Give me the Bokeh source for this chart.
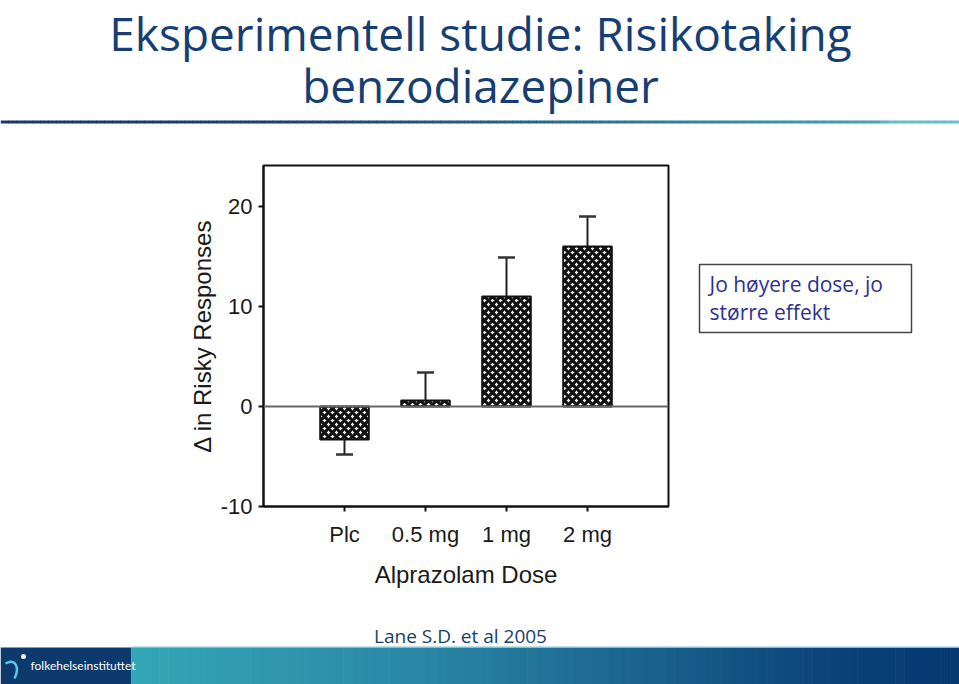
from bokeh.plotting import figure
from bokeh.layouts import column, row
from bokeh.models import Range1d, FactorRange, FixedTicker, Span, ColumnDataSource
from bokeh.transform import dodge
from bokeh.core.properties import value
from bokeh.embed import file_html
from bokeh.resources import INLINE

# ---------------- data ----------------
doses = ["Plc", "0.5 mg", "1 mg", "2 mg"]
mean_change = [-3.3, 0.6, 11.0, 16.0]
error_end = [-4.8, 3.4, 14.9, 19.0]
y_ticks = [-10, 0, 10, 20]

title_lines = ["Eksperimentell studie: Risikotaking", "benzodiazepiner"]
note_lines = ["Jo høyere dose, jo", "større effekt"]
citation = "Lane S.D. et al 2005"
logo_text = "folkehelseinstituttet"
x_label = "Alprazolam Dose"
y_label = "\u0394 in Risky Responses"

# ---------------- layout constants ----------------
W, H = 959, 684
TOP_H = 140          # title band
MID_H = 460          # chart band
BOT_H = H - TOP_H - MID_H
CHART_W = 690
FL, FR, FT, FB = 263, 668, 165, 506   # chart frame on the page
CHART_FONT = "Liberation Sans"
SLIDE_FONT = "Open Sans"
NAVY = "#163e72"
MID_SHIFT = 0.39      # baseline sits this many em below the "middle" anchor


def mid(baseline, size):
    return baseline - MID_SHIFT * size


def deco_fig(w, h, x0=0, y0=0, bt=0, bb=0):
    # frame of the figure maps page pixels [x0, x0+w] x [y0+bt, y0+h-bb]
    f = figure(width=w, height=h,
               x_range=Range1d(x0, x0 + w), y_range=Range1d(y0 + h - bb, y0 + bt),
               output_backend="svg", toolbar_location=None,
               x_axis_location=None, y_axis_location=None,
               min_border=0, min_border_left=0, min_border_right=0,
               min_border_top=bt, min_border_bottom=bb)
    f.xgrid.visible = False
    f.ygrid.visible = False
    f.outline_line_color = None
    f.background_fill_color = "white"
    f.border_fill_color = "white"
    return f


def lerp(c0, c1, t):
    return "#%02x%02x%02x" % tuple(int(round(a + (b - a) * t)) for a, b in zip(c0, c1))


def gradient(f, x0, x1, y0, y1, stops, n):
    step = (x1 - x0) / n
    lefts, rights, cols = [], [], []
    for i in range(n):
        pos = (i + 0.5) / n
        for k in range(len(stops) - 1):
            if stops[k][0] <= pos <= stops[k + 1][0]:
                t = (pos - stops[k][0]) / (stops[k + 1][0] - stops[k][0])
                cols.append(lerp(stops[k][1], stops[k + 1][1], t))
                break
        lefts.append(x0 + i * step)
        rights.append(x0 + (i + 1) * step + 0.6)
    f.quad(left=lefts, right=rights, top=[y0] * n, bottom=[y1] * n,
           fill_color=cols, line_color=None)


# ---------------- title band ----------------
TS = 46
top = deco_fig(W, TOP_H)
top.text(x=[480, 480], y=[mid(50, TS), mid(102, TS)], text=title_lines,
         text_font=value(SLIDE_FONT), text_font_size=f"{TS}px", text_color=NAVY,
         text_align="center", text_baseline="middle")
gradient(top, 0, W, 120, 123,
         [(0.0, (22, 58, 104)), (0.3, (26, 64, 110)), (0.5, (40, 92, 130)),
          (0.75, (55, 135, 160)), (0.915, (68, 165, 180)), (0.925, (98, 190, 200)),
          (1.0, (100, 195, 205))], 120)

# ---------------- chart ----------------
src = ColumnDataSource(dict(dose=doses, mean=mean_change, err=error_end))

p = figure(width=CHART_W, height=MID_H,
           x_range=FactorRange(*doses, range_padding=0.25),
           y_range=Range1d(-10, 24.1),
           output_backend="svg", toolbar_location=None,
           min_border_left=FL, min_border_right=CHART_W - FR,
           min_border_top=FT - TOP_H, min_border_bottom=TOP_H + MID_H - FB)

p.xgrid.visible = False
p.ygrid.visible = False
p.outline_line_color = "#111111"
p.outline_line_width = 2
p.outline_line_alpha = 1
p.background_fill_color = "white"
p.border_fill_color = "white"

p.yaxis.ticker = FixedTicker(ticks=y_ticks)
p.yaxis.major_label_overrides = {t: str(t) for t in y_ticks}
for ax in (p.xaxis[0], p.yaxis[0]):
    ax.axis_line_color = "#111111"
    ax.axis_line_width = 2
    ax.major_tick_line_color = "#111111"
    ax.major_tick_line_width = 2
    ax.major_tick_out = 5
    ax.major_tick_in = 0
    ax.minor_tick_line_color = None
    ax.major_label_text_font = CHART_FONT
    ax.major_label_text_font_size = "22px"
    ax.major_label_text_color = "#1a1a1a"
    ax.axis_label_text_font = CHART_FONT
    ax.axis_label_text_font_size = "24px"
    ax.axis_label_text_font_style = "normal"
    ax.axis_label_text_color = "#1a1a1a"

p.xaxis.axis_label = x_label
p.yaxis.axis_label = y_label
p.xaxis.major_label_standoff = 10
p.xaxis.axis_label_standoff = 11
p.yaxis.major_label_standoff = 6
p.yaxis.axis_label_standoff = 2

p.add_layout(Span(location=0, dimension="width", line_color="#666666", line_width=2))

p.vbar(x="dose", top="mean", bottom=0, width=0.6, source=src,
       fill_color="white", line_color="#111111", line_width=2,
       hatch_pattern="diagonal_cross", hatch_color="#111111",
       hatch_weight=3.2, hatch_scale=8)

p.segment(x0="dose", y0="mean", x1="dose", y1="err", source=src,
          line_color="#222222", line_width=2)
p.segment(x0=dodge("dose", -0.105, range=p.x_range), y0="err",
          x1=dodge("dose", 0.105, range=p.x_range), y1="err", source=src,
          line_color="#333333", line_width=2.5)

# ---------------- note box (right of chart, frame aligned with the chart's) ----------------
NS = 21
note = deco_fig(W - CHART_W, MID_H, x0=CHART_W, y0=TOP_H,
                bt=FT - TOP_H, bb=TOP_H + MID_H - FB)
note.quad(left=[699], right=[911], top=[264], bottom=[332],
          fill_color="white", line_color="#444444", line_width=1.5)
note.text(x=[709, 709], y=[mid(292, NS), mid(320, NS)], text=note_lines,
          text_font=value(SLIDE_FONT), text_font_size=f"{NS}px", text_color="#2e3192",
          text_align="left", text_baseline="middle")

# ---------------- bottom band: citation + footer ----------------
CS = 19
by = TOP_H + MID_H
bot = deco_fig(W, BOT_H, x0=0, y0=by)
bot.text(x=[460], y=[mid(643, CS)], text=[citation],
         text_font=value(SLIDE_FONT), text_font_size=f"{CS}px", text_color=NAVY,
         text_align="center", text_baseline="middle")
bot.quad(left=[0], right=[131], top=[647], bottom=[H],
         fill_color="#0c3a6c", line_color=None)
gradient(bot, 131, W, 647, H,
         [(0.0, (52, 166, 182)), (0.3, (44, 140, 168)), (0.55, (30, 108, 148)),
          (0.85, (12, 66, 120)), (1.0, (6, 56, 112))], 90)
bot.quad(left=[131], right=[W], top=[646], bottom=[647.5],
         fill_color="#7cc4cf", line_color=None)
# logo mark
bot.bezier(x0=[5], y0=[663], x1=[14], y1=[678], cx0=[16], cy0=[657], cx1=[19], cy1=[668],
           line_color="#5cc8dc", line_width=2.5)
bot.scatter(x=[23], y=[656], size=5, fill_color="white", line_color=None)
bot.text(x=[30], y=[665], text=[logo_text],
         text_font=value("Lato"), text_font_size="12px", text_color="white",
         text_align="left", text_baseline="middle")

layout = column(top, row(p, note, spacing=0), bot, spacing=0)
open("out.html", "w").write(file_html(layout, INLINE))
